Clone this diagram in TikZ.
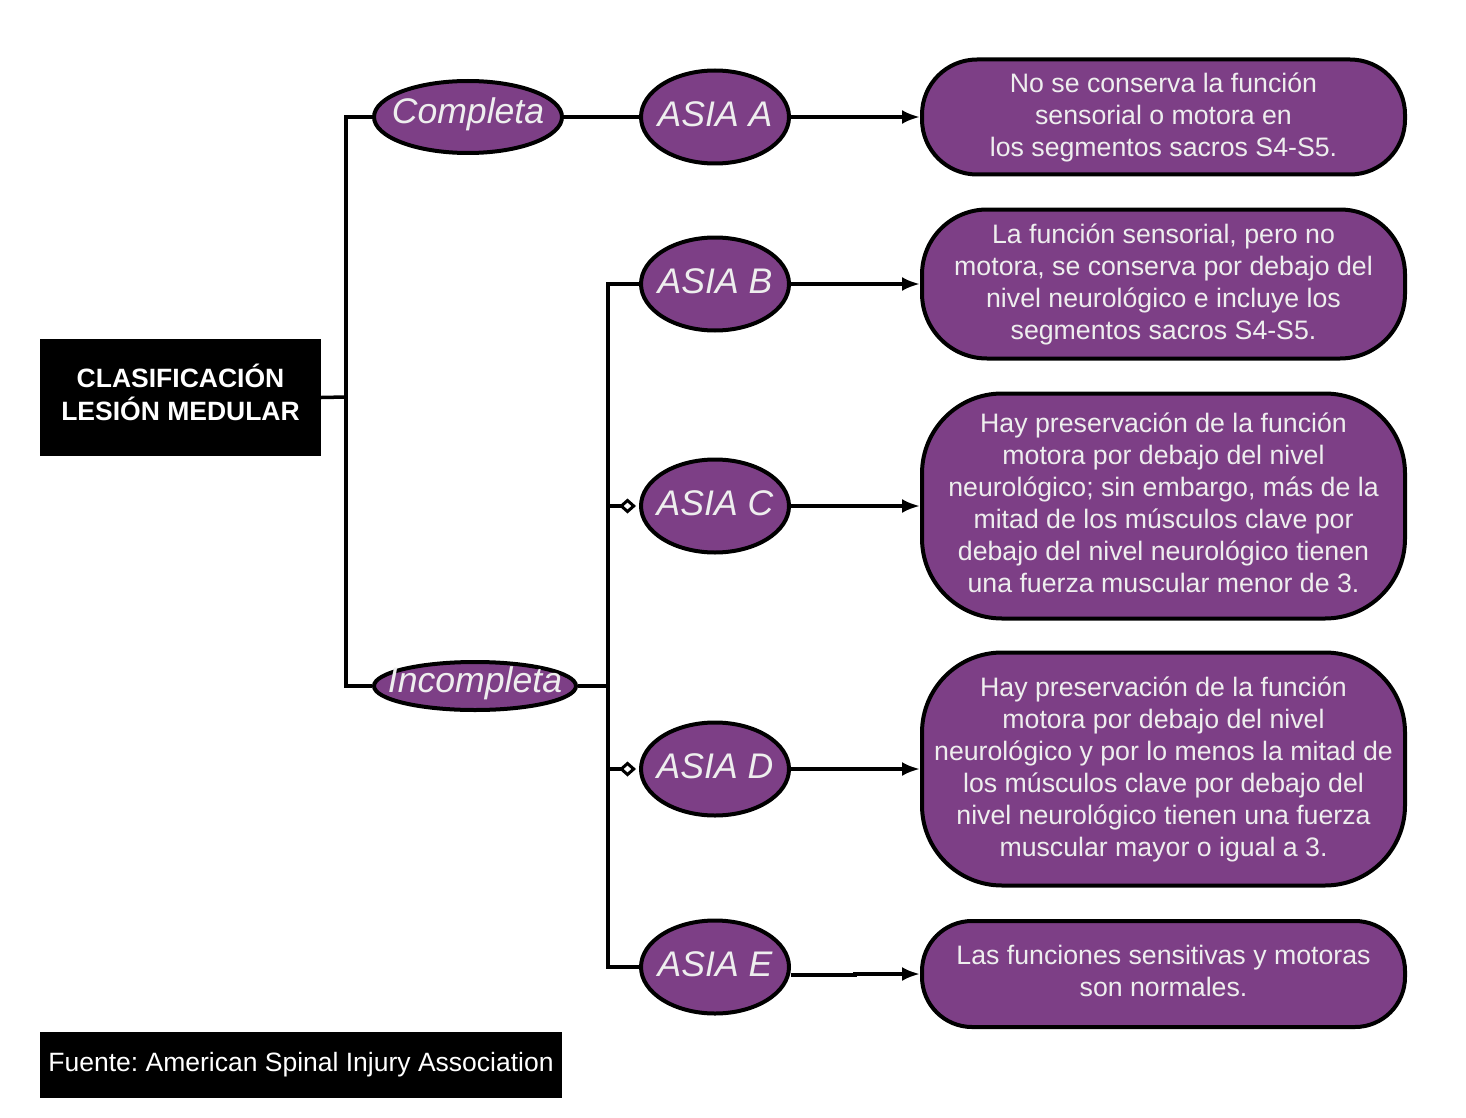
\documentclass[tikz,border=0pt]{standalone}
\usepackage{fontspec}
\setmainfont{Liberation Sans}
\usetikzlibrary{arrows.meta,shapes.geometric}
\frenchspacing
\definecolor{purp}{RGB}{125,63,134}
\definecolor{txt}{RGB}{238,238,238}
\tikzset{
  ell/.style={ellipse,draw=black,line width=4pt,fill=purp,inner sep=0pt},
  etext/.style={text=txt,inner sep=0pt,yshift=3pt,font=\fontsize{35.6}{40}\selectfont\itshape},
  desc/.style={draw=black,line width=4pt,fill=purp,text=txt,minimum width=483pt,align=center,inner sep=0pt,font=\fontsize{26.7}{32}\selectfont},
  blk/.style={fill=black,text=white,align=center,inner sep=0pt},
  conn/.style={line width=3.5pt,black},
  arr/.style={conn,-{Latex[length=18pt,width=14pt]}},
  dia/.style={conn,-{Diamond[open,length=17pt,width=15pt,line width=3pt]}}
}
\begin{document}
\begin{tikzpicture}[x=1pt,y=-1pt]
\useasboundingbox (0,0) rectangle (1466,1118);
\node[blk,minimum width=281pt,minimum height=117pt,font=\fontsize{26.5}{32}\selectfont\bfseries] (root) at (180.5,397.5) {\raisebox{3pt}{\begin{tabular}{@{}c@{}}CLASIFICACIÓN\\LESIÓN MEDULAR\end{tabular}}};
\node[blk,minimum width=522pt,minimum height=66pt,font=\fontsize{26.5}{30}\selectfont] (src) at (301,1065) {Fuente: American Spinal Injury Association};

\node[ell,minimum width=188pt,minimum height=72pt,label={[etext]center:Completa}] (comp) at (468,117) {};
\node[ell,minimum width=202pt,minimum height=48pt,label={[etext]center:Incompleta}] (inc) at (475,686) {};

\node[ell,minimum width=148pt,minimum height=93pt,label={[etext]center:ASIA A}] (a) at (715,117) {};
\node[ell,minimum width=148pt,minimum height=93pt,label={[etext]center:ASIA B}] (b) at (715,284) {};
\node[ell,minimum width=148pt,minimum height=93pt,label={[etext]center:ASIA C}] (c) at (715,506) {};
\node[ell,minimum width=148pt,minimum height=93pt,label={[etext]center:ASIA D}] (d) at (715,769) {};
\node[ell,minimum width=148pt,minimum height=93pt,label={[etext]center:ASIA E}] (e) at (715,967) {};

\node[desc,minimum height=115pt,rounded corners=55pt] (ta) at (1163.5,117) {No se conserva la función\\sensorial o motora en\\los segmentos sacros S4-S5.};
\node[desc,minimum height=149pt,rounded corners=65pt] (tb) at (1163.5,284) {La función sensorial, pero no\\motora, se conserva por debajo del\\nivel neurológico e incluye los\\segmentos sacros S4-S5.};
\node[desc,minimum height=225pt,rounded corners=80pt] (tc) at (1163.5,506) {\raisebox{5pt}{\begin{tabular}{@{}c@{}}Hay preservación de la función\\motora por debajo del nivel\\neurológico; sin embargo, más de la\\mitad de los músculos clave por\\debajo del nivel neurológico tienen\\una fuerza muscular menor de 3.\end{tabular}}};
\node[desc,minimum height=233pt,rounded corners=80pt] (td) at (1163.5,769) {Hay preservación de la función\\motora por debajo del nivel\\neurológico y por lo menos la mitad de\\los músculos clave por debajo del\\nivel neurológico tienen una fuerza\\muscular mayor o igual a 3.};
\node[desc,minimum height=106pt,rounded corners=50pt] (te) at (1163.5,974) {\raisebox{3pt}{\begin{tabular}{@{}c@{}}Las funciones sensitivas y motoras\\son normales.\end{tabular}}};

\coordinate (j1) at (346,397);
\coordinate (j2) at (608,686);

\draw[conn] (root.east) -- (j1);
\draw[conn] (j1) |- (comp.west);
\draw[conn] (j1) |- (inc.west);
\draw[conn,line width=4.5pt] (comp.east) -- (a.west);

\draw[conn] (inc.east) -- (j2);
\draw[conn] (j2) |- (b.west);
\draw[conn] (j2) |- (e.west);
\draw[dia] (j2 |- c.west) -- ([xshift=-3pt]c.west);
\draw[dia] (j2 |- d.west) -- ([xshift=-3pt]d.west);

\draw[arr] (a.east) -- (ta.west);
\draw[arr] (b.east) -- (tb.west);
\draw[arr] (c.east) -- (tc.west);
\draw[arr] (d.east) -- (td.west);
\draw[arr] ([yshift=-8pt]e.east) -- ++(64,0) -- ++(0,-1) -- (te.west);
\end{tikzpicture}
\end{document}
